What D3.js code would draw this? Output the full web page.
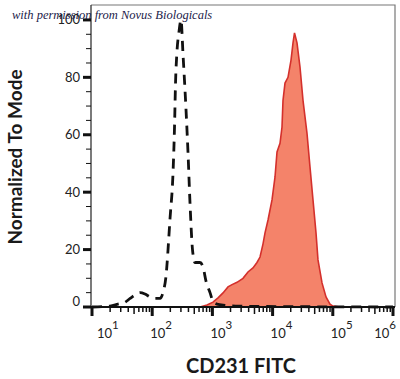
<!DOCTYPE html>
<html><head><meta charset="utf-8">
<script src="https://cdn.jsdelivr.net/npm/d3@7/dist/d3.min.js"></script>
<style>html,body{margin:0;padding:0;background:#fff;}svg{display:block;}</style>
</head><body>
<svg id="c" width="400" height="379"></svg>
<script>
// Isotype control (dashed)
const isoX = [10,20,27,35,43,52,63,76,92,111,135,151,169,198,222,235,244,258,279,301,325,364,393,425,467,514,622,698,783,913,1023,1191,1619,2871,6180,28500,1e6];
const isoY = [0,0.3,1.0,1.6,3,4.2,5.0,4.5,3.5,3.0,3.0,5,10.5,31,47,63,78,89,96,100,88,69,54,36,20,15.5,15.5,14,9,5,2,1,0.6,0.3,0.2,0.1,0];
// CD231 FITC (filled)
const cdX = [10,622,813,1023,1240,1500,1816,2118,2566,3223,3900,4721,5505,6180,6934,7482,8395,9780,10970,11840,13280,14330,14890,16070,18030,20230,21830,23120,25430,28520,31990,37240,41780,46880,52600,56770,66200,77100,89800,100700,131800,1e6];
const cdY = [0,0,0.7,1.7,3.2,4.9,7,7.8,8.6,10,12.2,13.6,15.5,17.4,22,25.8,30.3,37.3,45.3,54,57,62.7,72,78,80,86,92,95.5,92,83.6,72,60.6,48.8,37.3,25.8,16.4,8.4,3.5,1,0.3,0,0];
const xTicks = [10,100,1000,10000,100000,1000000];
const xTickExp = ["1","2","3","4","5","6"];
const yTicks = [0,20,40,60,80,100];

const svg = d3.select("#c");
const x = d3.scaleLog().domain([10,1e6]).range([92,393]);
const y = d3.scaleLinear().domain([0,105.2]).range([307,5]);
const x0 = 91, x1 = 395, yb = 307, yt = 5;

// frame
svg.append("path").attr("d",`M${x0},${yt}H${x1}V${yb}`).attr("fill","none").attr("stroke","#777").attr("stroke-width",1.2);

// filled series
const cd = cdX.map((v,i)=>[v,cdY[i]]);
const area = d3.area().x(d=>x(d[0])).y0(y(0)).y1(d=>y(d[1])).curve(d3.curveLinear);
const line = d3.line().x(d=>x(d[0])).y(d=>y(d[1])).curve(d3.curveLinear);
svg.append("path").datum(cd).attr("d",area).attr("fill","#f4836a");
svg.append("path").datum(cd).attr("d",line).attr("fill","none").attr("stroke","#d4302c").attr("stroke-width",1.6);

// dashed series
const iso = isoX.map((v,i)=>[v,isoY[i]]);
svg.append("path").datum(iso).attr("d",d3.line().x(d=>x(d[0])).y(d=>y(d[1])).curve(d3.curveMonotoneX))
  .attr("fill","none").attr("stroke","#111").attr("stroke-width",2.8).attr("stroke-dasharray","10,7");

// y axis
svg.append("line").attr("x1",x0).attr("x2",x0).attr("y1",yt).attr("y2",yb).attr("stroke","#333").attr("stroke-width",1.3);
d3.range(0,105,5).forEach(v=>{
  const major = v%20===0;
  svg.append("line").attr("x1",major?83:86).attr("x2",x0).attr("y1",y(v)).attr("y2",y(v))
    .attr("stroke","#111").attr("stroke-width",major?3:1);
});
yTicks.forEach(v=>{
  svg.append("text").attr("x",80).attr("y",y(v)-(v===0?6:0)).attr("dy","0.35em")
    .attr("text-anchor","end").attr("font-family","Lato").attr("font-size",13).attr("fill","#222").text(v);
});

// x axis
svg.append("line").attr("x1",83).attr("x2",x1).attr("y1",yb).attr("y2",yb).attr("stroke","#111").attr("stroke-width",1.8);
for(let d=1; d<6; d++){
  for(let m=2;m<10;m++){
    const v = m*Math.pow(10,d);
    svg.append("line").attr("x1",x(v)).attr("x2",x(v)).attr("y1",yb).attr("y2",yb+(m===5?7:5))
      .attr("stroke","#111").attr("stroke-width",1.5);
  }
}
xTicks.forEach((v,i)=>{
  svg.append("line").attr("x1",x(v)).attr("x2",x(v)).attr("y1",yb).attr("y2",yb+9)
    .attr("stroke","#111").attr("stroke-width",3);
  const last = i===xTicks.length-1;
  const tx = i===0 ? x(v)+5 : last ? x(v)+3 : x(v)-2;
  const t = svg.append("text").attr("x",tx).attr("y",338).attr("text-anchor",last?"end":"start")
    .attr("font-family","Lato").attr("font-size",13).attr("fill","#222");
  t.append("tspan").text("10");
  t.append("tspan").attr("dy",-9).attr("font-size",11.5).text(xTickExp[i]);
});

// titles
svg.append("text").attr("x",241).attr("y",373).attr("text-anchor","middle")
  .attr("font-family","Lato").attr("font-weight","bold").attr("font-size",20).attr("fill","#1a1a1a").text("CD231 FITC");
svg.append("text").attr("transform","translate(22,157) rotate(-90)").attr("text-anchor","middle")
  .attr("font-family","Lato").attr("font-weight","bold").attr("font-size",19).attr("fill","#1a1a1a").text("Normalized To Mode");

// watermark
svg.append("text").attr("x",12).attr("y",19).attr("font-family","Liberation Serif").attr("font-style","italic")
  .attr("font-size",12.5).attr("fill","#1c1c4a").text("with permission from Novus Biologicals");
</script>
</body></html>
